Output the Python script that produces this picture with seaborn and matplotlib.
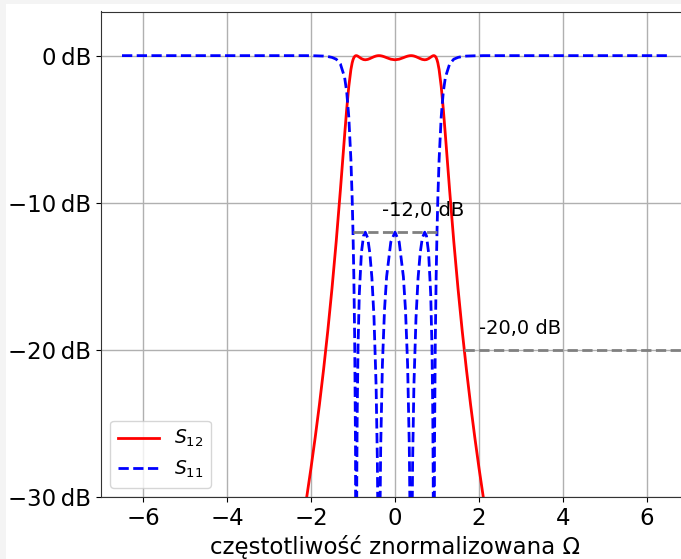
import matplotlib
matplotlib.use("Agg")
import matplotlib.pyplot as plt
from matplotlib.patches import Rectangle
from matplotlib.ticker import FuncFormatter, MultipleLocator
import seaborn as sns
import pandas as pd

# normalized frequency samples
omega = [-6.5, -6.0, -5.0, -4.0, -3.0, -2.5, -2.2, -2.1, -2.0, -1.9, -1.8, -1.7, -1.6, -1.5,
         -1.4, -1.3, -1.2, -1.15, -1.1, -1.05, -1.02, -1.0, -0.98, -0.96, -0.94, -0.924,
         -0.91, -0.9, -0.88, -0.85, -0.8, -0.75, -0.707, -0.65, -0.6, -0.55, -0.5, -0.45,
         -0.42, -0.4, -0.383, -0.36, -0.34, -0.3, -0.25, -0.2, -0.1,
         0.0,
         0.1, 0.2, 0.25, 0.3, 0.34, 0.36, 0.383, 0.4, 0.42, 0.45, 0.5, 0.55, 0.6, 0.65,
         0.707, 0.75, 0.8, 0.85, 0.88, 0.9, 0.91, 0.924, 0.94, 0.96, 0.98, 1.0, 1.02, 1.05,
         1.1, 1.15, 1.2, 1.3, 1.4, 1.5, 1.6, 1.7, 1.8, 1.9, 2.0, 2.1, 2.2, 2.5, 3.0, 4.0,
         5.0, 6.0, 6.5]

s12_db = [-71.2, -68.4, -61.9, -53.95, -43.51, -36.70, -31.79, -29.97, -28.03, -25.95, -23.73,
          -21.32, -18.70, -15.82, -12.64, -9.13, -5.42, -3.64, -2.094, -0.949, -0.493, -0.283,
          -0.139, -0.052, -0.009, 0.0, -0.006, -0.016, -0.046, -0.105, -0.203, -0.266, -0.283,
          -0.257, -0.203, -0.136, -0.073, -0.025, -0.008, -0.002, 0.0, -0.003, -0.010, -0.035,
          -0.082, -0.138, -0.241,
          -0.283,
          -0.241, -0.138, -0.082, -0.035, -0.010, -0.003, 0.0, -0.002, -0.008, -0.025, -0.073,
          -0.136, -0.203, -0.257, -0.283, -0.266, -0.203, -0.105, -0.046, -0.016, -0.006, 0.0,
          -0.009, -0.052, -0.139, -0.283, -0.493, -0.949, -2.094, -3.64, -5.42, -9.13, -12.64,
          -15.82, -18.70, -21.32, -23.73, -25.95, -28.03, -29.97, -31.79, -36.70, -43.51,
          -53.95, -61.9, -68.4, -71.2]

s11_db = [0.0, 0.0, 0.0, 0.0, 0.0, 0.0, 0.0, 0.0, -0.01, -0.01, -0.02, -0.03, -0.06, -0.12,
          -0.24, -0.57, -1.47, -2.46, -4.17, -7.07, -9.69, -12.0, -15.01, -19.26, -26.76, -60.0,
          -28.87, -24.45, -19.77, -16.20, -13.40, -12.26, -12.0, -12.40, -13.40, -15.10, -17.81,
          -22.44, -27.52, -34.19, -60.0, -31.93, -26.52, -21.0, -17.29, -15.04, -12.67,
          -12.0,
          -12.67, -15.04, -17.29, -21.0, -26.52, -31.93, -60.0, -34.19, -27.52, -22.44, -17.81,
          -15.10, -13.40, -12.40, -12.0, -12.26, -13.40, -16.20, -19.77, -24.45, -28.87, -60.0,
          -26.76, -19.26, -15.01, -12.0, -9.69, -7.07, -4.17, -2.46, -1.47, -0.57, -0.24, -0.12,
          -0.06, -0.03, -0.02, -0.01, -0.01, 0.0, 0.0, 0.0, 0.0, 0.0, 0.0, 0.0, 0.0]

# annotation levels
ripple_level = -12.0
ripple_span = [-1.0, 1.0]
stop_level = -20.0
stop_span = [1.64, 7.0]

df = pd.DataFrame({"omega": omega, "S12": s12_db, "S11": s11_db})

plt.rcParams["font.family"] = ["DejaVu Sans"]
plt.rcParams["axes.unicode_minus"] = True

fig = plt.figure(figsize=(6.81, 5.59), dpi=100)
fig.patch.set_facecolor("#f4f4f4")
bg = Rectangle((6 / 681, 0), 1, 1 - 4 / 559, transform=fig.transFigure,
               facecolor="white", edgecolor="none", zorder=-10)
fig.patches.append(bg)
ax = fig.add_axes([101 / 681, 1 - 497 / 559, 588 / 681, (497 - 11.5) / 559])
ax.set_zorder(1)

sns.lineplot(data=df, x="omega", y="S12", ax=ax, color="red", lw=2,
             label="$S_{12}$", sort=False)
sns.lineplot(data=df, x="omega", y="S11", ax=ax, color="blue", lw=2,
             linestyle="--", label="$S_{11}$", sort=False)

ax.plot(ripple_span, [ripple_level, ripple_level], color="gray", ls="--", lw=2)
ax.plot(stop_span, [stop_level, stop_level], color="gray", ls="--", lw=2)
ax.text(-0.32, ripple_level + 0.8, "-12,0 dB", fontsize=14, ha="left", va="bottom")
ax.text(2.0, stop_level + 0.8, "-20,0 dB", fontsize=14, ha="left", va="bottom")

ax.set_xlim(-7, 7)
ax.set_ylim(-30, 3)
ax.xaxis.set_major_locator(MultipleLocator(2))
ax.yaxis.set_major_locator(MultipleLocator(10))
ax.yaxis.set_major_formatter(FuncFormatter(
    lambda v, p: f"{v:.0f}\u2009dB".replace("-", "\u2212")))
ax.grid(True, color="#b0b0b0", lw=1)
ax.tick_params(labelsize=16.5)
ax.set_xlabel("częstotliwość znormalizowana Ω", fontsize=16.5, labelpad=4)
ax.set_ylabel("")
for s in ax.spines.values():
    s.set_color("#333333")

ax.legend(loc="lower left", fontsize=13.5, handlelength=2.2)

fig.savefig("out.png", dpi=100, facecolor=fig.get_facecolor())
